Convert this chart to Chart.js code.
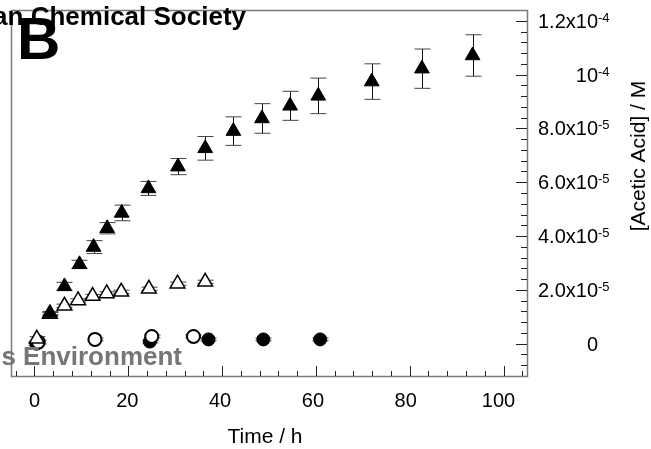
<!DOCTYPE html>
<html>
<head>
<meta charset="utf-8">
<script src="https://cdn.jsdelivr.net/npm/chart.js@4.4.0/dist/chart.umd.min.js"></script>
<style>
  html, body { margin: 0; padding: 0; background: #fff; }
  #wrap { position: relative; width: 651px; height: 449px; }
</style>
</head>
<body>
<div id="wrap"><canvas id="chart" width="651" height="449"></canvas></div>
<script>
// y values are in units of 1e-5 M
var xTicks = [0, 20, 40, 60, 80, 100];
var yTicks = [0, 2, 4, 6, 8, 10, 12];
var yTickBase = ["0", "2.0x10", "4.0x10", "6.0x10", "8.0x10", "10", "1.2x10"];
var yTickExp  = ["", "-5", "-5", "-5", "-5", "-4", "-4"];

var filledTriT   = [3.3, 6.4, 9.6, 12.6, 15.5, 18.6, 24.3, 30.6, 36.4, 42.4, 48.5, 54.5, 60.5, 71.9, 82.6, 93.4];
var filledTriY   = [1.14, 2.13, 2.95, 3.59, 4.29, 4.86, 5.77, 6.58, 7.26, 7.90, 8.37, 8.84, 9.21, 9.74, 10.22, 10.71];
var filledTriErr = [0.06, 0.15, 0.15, 0.24, 0.21, 0.29, 0.26, 0.30, 0.44, 0.53, 0.55, 0.54, 0.66, 0.66, 0.73, 0.77];

var openTriT   = [0.5, 3.3, 6.4, 9.3, 12.4, 15.4, 18.5, 24.4, 30.5, 36.4];
var openTriY   = [0.18, 1.10, 1.41, 1.61, 1.77, 1.87, 1.93, 2.04, 2.23, 2.30];
var openTriErr = [0.08, 0.06, 0.06, 0.06, 0.06, 0.06, 0.06, 0.06, 0.06, 0.06];

var openCircT   = [0.8, 12.9, 25.0, 33.9];
var openCircY   = [0.06, 0.16, 0.27, 0.27];
var openCircErr = [0.07, 0.05, 0.05, 0.05];

var filledCircT   = [0.4, 24.6, 37.1, 48.8, 60.9];
var filledCircY   = [0.0, 0.08, 0.16, 0.16, 0.16];
var filledCircErr = [0.06, 0.05, 0.05, 0.05, 0.05];

var FONT = '"Liberation Sans", Arial, sans-serif';

function pts(xs, ys) {
  return xs.map(function(x, i) { return { x: x, y: ys[i] }; });
}

// error bars under the markers, ticks/labels/frame on top
var framePlugin = {
  id: "frame",
  beforeDatasetsDraw: function(chart) {
    var c = chart.ctx, xs = chart.scales.x, ys = chart.scales.y;
    c.save();
    chart.data.datasets.forEach(function(ds) {
      if (!ds.errs) return;
      ds.data.forEach(function(p, i) {
        var e = ds.errs[i];
        var px = Math.round(xs.getPixelForValue(p.x)) + 0.5;
        var yTop = ys.getPixelForValue(p.y + e);
        var yBot = ys.getPixelForValue(p.y - e);
        c.lineWidth = 1;
        c.strokeStyle = "#111";
        c.beginPath(); c.moveTo(px, yTop); c.lineTo(px, yBot); c.stroke();
        c.strokeStyle = "#444";
        c.beginPath();
        c.moveTo(px - 8, yTop); c.lineTo(px + 8, yTop);
        c.moveTo(px - 8, yBot); c.lineTo(px + 8, yBot);
        c.stroke();
      });
    });
    c.restore();
  },
  afterDraw: function(chart) {
    var c = chart.ctx, a = chart.chartArea, xs = chart.scales.x, ys = chart.scales.y;
    c.save();
    // frame
    c.strokeStyle = "#7a7a7a";
    c.lineWidth = 1.5;
    c.strokeRect(a.left + 0.5, a.top + 0.5, a.right - a.left, a.bottom - a.top);

    // x ticks (inward), minor every 4 h
    c.strokeStyle = "#222";
    c.lineWidth = 1;
    c.beginPath();
    for (var t = -4; t <= 104; t += 4) {
      var px = Math.round(xs.getPixelForValue(t)) + 0.5;
      var len = (t % 20 === 0) ? 10 : 5;
      c.moveTo(px, a.bottom); c.lineTo(px, a.bottom - len);
    }
    // y ticks on right (inward), minor every 4e-6
    for (var k = -2; k <= 30; k++) {
      var vv = k * 0.4;
      var py = Math.round(ys.getPixelForValue(vv)) + 0.5;
      var major = (k % 5 === 0);
      c.moveTo(a.right, py); c.lineTo(a.right - (major ? 11 : 6), py);
    }
    c.stroke();

    // x tick labels
    c.fillStyle = "#000";
    c.font = "20px " + FONT;
    c.textAlign = "center";
    c.textBaseline = "alphabetic";
    xTicks.forEach(function(t) {
      c.fillText(String(t), xs.getPixelForValue(t) - t * 0.05, 407);
    });

    // y tick labels with superscript exponents
    yTicks.forEach(function(v, i) {
      var py = ys.getPixelForValue(v);
      c.font = "20px " + FONT;
      c.textAlign = "right";
      c.fillText(yTickBase[i], 598, py + 7);
      if (yTickExp[i]) {
        c.font = "13px " + FONT;
        c.textAlign = "left";
        c.fillText(yTickExp[i], 598, py + 1);
      }
    });

    // axis titles
    c.font = "21px " + FONT;
    c.textAlign = "center";
    c.fillText("Time / h", 265, 443);
    c.save();
    c.translate(645, 156);
    c.rotate(-Math.PI / 2);
    c.fillText("[Acetic Acid] / M", 0, 0);
    c.restore();

    // overlaid texts
    c.font = "bold 26px " + FONT;
    c.textAlign = "right";
    c.fillStyle = "#000";
    c.fillText("an Chemical Society", 246, 25);
    c.fillStyle = "#767676";
    c.fillText("s Environment", 182, 365);
    c.fillStyle = "#000";
    c.textAlign = "left";
    c.font = "bold 60px " + FONT;
    c.fillText("B", 17, 59);
    c.restore();
  }
};

new Chart(document.getElementById("chart").getContext("2d"), {
  type: "scatter",
  data: {
    datasets: [
      {
        label: "filled triangles",
        data: pts(filledTriT, filledTriY),
        errs: filledTriErr,
        pointStyle: "triangle",
        pointRadius: 8.5,
        backgroundColor: "#000",
        borderColor: "#000",
        borderWidth: 1,
        order: 0
      },
      {
        label: "open triangles",
        data: pts(openTriT, openTriY),
        errs: openTriErr,
        pointStyle: "triangle",
        pointRadius: 8.5,
        backgroundColor: "#fff",
        borderColor: "#000",
        borderWidth: 1.5,
        order: 1
      },
      {
        label: "open circles",
        data: pts(openCircT, openCircY),
        errs: openCircErr,
        pointStyle: "circle",
        pointRadius: 6.5,
        backgroundColor: "#fff",
        borderColor: "#000",
        borderWidth: 2,
        order: 2
      },
      {
        label: "filled circles",
        data: pts(filledCircT, filledCircY),
        errs: filledCircErr,
        pointStyle: "circle",
        pointRadius: 6.5,
        backgroundColor: "#000",
        borderColor: "#000",
        borderWidth: 1,
        order: 3
      }
    ]
  },
  options: {
    responsive: false,
    animation: false,
    events: [],
    layout: { padding: { left: 11, right: 124, top: 4, bottom: 73 } },
    plugins: { legend: { display: false }, tooltip: { enabled: false } },
    scales: {
      x: { type: "linear", min: -5, max: 105, display: false },
      y: { type: "linear", min: -1.2, max: 12.4, display: false }
    }
  },
  plugins: [framePlugin]
});
</script>
</body>
</html>
